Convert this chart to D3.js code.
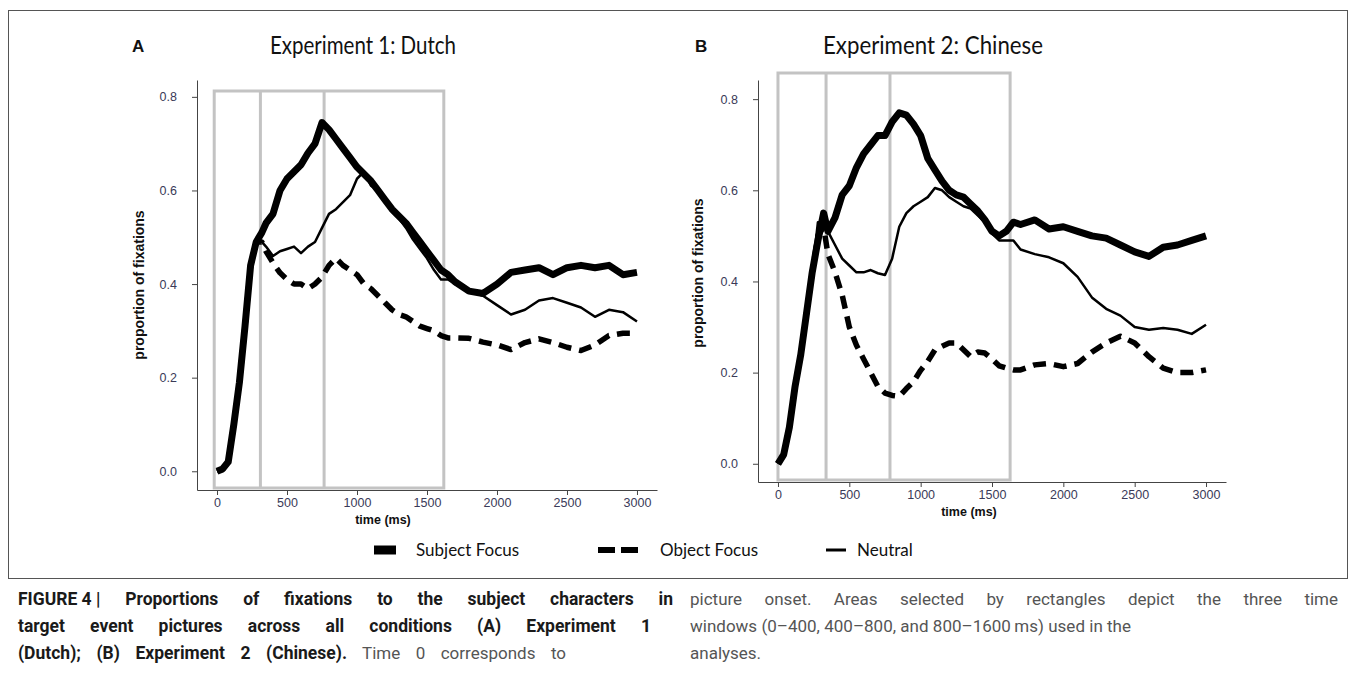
<!DOCTYPE html>
<meta charset="utf-8">
<style>
body { margin: 0; background: #fff; }
.tick text { font-family: "Liberation Sans", Arial, sans-serif; font-size: 12.5px; fill: #3a3a58; }
.axis path, .axis line { stroke: #444; }
.lbl { font-family: "Liberation Sans", Arial, sans-serif; font-size: 12.5px; font-weight: bold; fill: #111; }
.ylbl { font-size: 14px; }
.title { font-family: Lato, "Open Sans", sans-serif; font-size: 25px; fill: #111; }
.letter { font-family: "Liberation Sans", Arial, sans-serif; font-size: 17px; font-weight: bold; fill: #111; }
.legend text { font-family: Lato, "Open Sans", sans-serif; font-size: 17px; fill: #111; }
.cap { font-family: Roboto, "Liberation Sans", sans-serif; font-size: 17px; fill: #555; }
.cap .b { font-weight: bold; fill: #1a1a1a; font-size: 17.5px; }
.cap .tight { word-spacing: 0; }
</style>
<body>
<script src="https://cdn.jsdelivr.net/npm/d3@7"></script>
<script>

// time points (ms)
var times = [0, 40, 80, 120, 160, 200, 240, 280, 320,
  350, 400, 450, 500, 550, 600, 650, 700, 750, 800, 850, 900, 950, 1000,
  1050, 1100, 1150, 1200, 1250, 1300, 1350, 1400, 1450, 1500, 1550, 1600, 1650, 1700,
  1800, 1900, 2000, 2100, 2200, 2300, 2400, 2500, 2600, 2700, 2800, 2900, 3000];

// Experiment 1: Dutch
var dutchSubject = [0, 0.005, 0.02, 0.10, 0.19, 0.31, 0.44, 0.49, 0.51,
  0.53, 0.55, 0.60, 0.625, 0.64, 0.655, 0.68, 0.70, 0.745, 0.73, 0.71, 0.69, 0.67, 0.65,
  0.635, 0.62, 0.60, 0.58, 0.56, 0.545, 0.53, 0.51, 0.49, 0.47, 0.45, 0.43, 0.42, 0.405,
  0.385, 0.38, 0.40, 0.425, 0.43, 0.435, 0.42, 0.435, 0.44, 0.435, 0.44, 0.42, 0.425];
var dutchObject = [0, 0.005, 0.02, 0.10, 0.19, 0.31, 0.44, 0.49, 0.49,
  0.47, 0.445, 0.424, 0.41, 0.40, 0.40, 0.39, 0.40, 0.415, 0.44, 0.455, 0.44, 0.43, 0.42,
  0.40, 0.39, 0.375, 0.36, 0.345, 0.335, 0.33, 0.32, 0.31, 0.305, 0.30, 0.29, 0.285, 0.285,
  0.284, 0.276, 0.27, 0.26, 0.275, 0.283, 0.275, 0.265, 0.258, 0.27, 0.29, 0.295, 0.295];
var dutchNeutral = [0, 0.005, 0.02, 0.10, 0.19, 0.31, 0.44, 0.49, 0.49,
  0.48, 0.46, 0.47, 0.475, 0.48, 0.466, 0.48, 0.49, 0.52, 0.55, 0.56, 0.575, 0.59, 0.625,
  0.64, 0.61, 0.60, 0.575, 0.555, 0.54, 0.52, 0.495, 0.475, 0.455, 0.43, 0.41, 0.41, 0.40,
  0.385, 0.375, 0.355, 0.335, 0.345, 0.365, 0.37, 0.36, 0.35, 0.33, 0.345, 0.34, 0.32];

// Experiment 2: Chinese
var chineseSubject = [0, 0.02, 0.08, 0.17, 0.24, 0.33, 0.42, 0.49, 0.55,
  0.51, 0.54, 0.59, 0.61, 0.65, 0.68, 0.70, 0.72, 0.72, 0.75, 0.77, 0.765, 0.745, 0.72,
  0.67, 0.645, 0.62, 0.60, 0.59, 0.585, 0.57, 0.555, 0.535, 0.51, 0.50, 0.51, 0.53, 0.525,
  0.535, 0.515, 0.52, 0.51, 0.50, 0.495, 0.48, 0.465, 0.455, 0.475, 0.48, 0.49, 0.50];
var chineseObject = [0, 0.02, 0.08, 0.17, 0.24, 0.33, 0.42, 0.50, 0.52,
  0.46, 0.42, 0.37, 0.30, 0.26, 0.23, 0.20, 0.17, 0.155, 0.15, 0.148, 0.165, 0.18, 0.205,
  0.225, 0.25, 0.258, 0.265, 0.265, 0.25, 0.235, 0.245, 0.243, 0.23, 0.215, 0.21, 0.206, 0.206,
  0.217, 0.22, 0.213, 0.22, 0.245, 0.265, 0.28, 0.265, 0.235, 0.21, 0.20, 0.20, 0.206];
var chineseNeutral = [0, 0.02, 0.08, 0.17, 0.24, 0.33, 0.42, 0.53, 0.53,
  0.51, 0.48, 0.45, 0.435, 0.42, 0.42, 0.425, 0.418, 0.414, 0.45, 0.52, 0.55, 0.565, 0.575,
  0.585, 0.605, 0.60, 0.585, 0.575, 0.565, 0.56, 0.545, 0.53, 0.505, 0.49, 0.49, 0.49, 0.47,
  0.46, 0.453, 0.44, 0.41, 0.365, 0.34, 0.325, 0.30, 0.294, 0.298, 0.294, 0.285, 0.305];

var xTicks = [0, 500, 1000, 1500, 2000, 2500, 3000];
var yTicks = [0, 0.2, 0.4, 0.6, 0.8];

// edges of the analysis windows as drawn (ms)
var dutchWindows = [-20, 310, 765, 1620];
var chineseWindows = [0, 337, 785, 1627];

var legendLabels = ["Subject Focus", "Object Focus", "Neutral"];

var styles = [
  {width: 7, dash: null},
  {width: 5.5, dash: "13,8"},
  {width: 2.5, dash: null}
];

var svg = d3.select("body").append("svg")
    .attr("width", 1355)
    .attr("height", 680);

svg.append("rect")
    .attr("x", 8.5).attr("y", 10.5)
    .attr("width", 1339).attr("height", 568)
    .attr("fill", "none").attr("stroke", "#555").attr("stroke-width", 1);

function drawPanel(p) {
  var x = d3.scaleLinear().domain(p.xDomain).range(p.xRange);
  var y = d3.scaleLinear().domain(p.yDomain).range(p.yRange);
  var g = svg.append("g");

  g.append("text").attr("class", "letter")
      .attr("x", p.letterX).attr("y", 52).text(p.letter);
  g.append("text").attr("class", "title")
      .attr("x", p.titleX).attr("y", 54)
      .attr("textLength", p.titleW).attr("lengthAdjust", "spacingAndGlyphs")
      .text(p.title);

  // window rectangles
  var w = p.windows;
  var top = p.rectTop, bottom = p.yRange[0] - 2;
  g.append("rect")
      .attr("x", x(w[0])).attr("y", top)
      .attr("width", x(w[3]) - x(w[0])).attr("height", bottom - top)
      .attr("fill", "none").attr("stroke", "#c3c3c3").attr("stroke-width", 3);
  g.selectAll(".win").data([w[1], w[2]]).enter().append("line")
      .attr("x1", function(d) { return x(d); })
      .attr("x2", function(d) { return x(d); })
      .attr("y1", top).attr("y2", bottom)
      .attr("stroke", "#c3c3c3").attr("stroke-width", 3);

  g.append("g").attr("class", "axis")
      .attr("transform", "translate(0," + p.yRange[0] + ")")
      .call(d3.axisBottom(x).tickValues(xTicks).tickFormat(d3.format("d"))
        .tickSizeOuter(0).tickSizeInner(5).tickPadding(3));
  g.append("g").attr("class", "axis")
      .attr("transform", "translate(" + p.xRange[0] + ",0)")
      .call(d3.axisLeft(y).tickValues(yTicks).tickFormat(d3.format(".1f"))
        .tickSizeOuter(0).tickSizeInner(5).tickPadding(15));
  g.selectAll(".axis .tick line").attr("stroke", "#888");

  var line = d3.line()
      .x(function(d, i) { return x(times[i]); })
      .y(function(d) { return y(d); });

  [p.neutral, p.object, p.subject].forEach(function(s, k) {
    var st = styles[2 - k];
    g.append("path")
        .attr("d", line(s))
        .attr("fill", "none")
        .attr("stroke", "#000")
        .attr("stroke-width", st.width)
        .attr("stroke-linejoin", "round")
        .attr("stroke-dasharray", st.dash);
  });

  g.append("text").attr("class", "lbl ylbl")
      .attr("text-anchor", "middle")
      .attr("transform", "translate(" + p.yLabelX + "," + p.yLabelY + ") rotate(-90)")
      .text("proportion of fixations");
  g.append("text").attr("class", "lbl")
      .attr("text-anchor", "middle")
      .attr("x", p.xLabelX).attr("y", p.xLabelY)
      .text("time (ms)");
}

drawPanel({
  letter: "A", letterX: 132, title: "Experiment 1: Dutch", titleX: 270, titleW: 186,
  xDomain: [-143, 3143], xRange: [197, 657],
  yDomain: [-0.04, 0.836], yRange: [490, 80],
  rectTop: 91, windows: dutchWindows,
  subject: dutchSubject, object: dutchObject, neutral: dutchNeutral,
  yLabelX: 144, yLabelY: 285, xLabelX: 383, xLabelY: 524
});

drawPanel({
  letter: "B", letterX: 695, title: "Experiment 2: Chinese", titleX: 823, titleW: 220,
  xDomain: [-140, 3140], xRange: [758, 1226],
  yDomain: [-0.04, 0.842], yRange: [482, 80],
  rectTop: 73, windows: chineseWindows,
  subject: chineseSubject, object: chineseObject, neutral: chineseNeutral,
  yLabelX: 703, yLabelY: 273, xLabelX: 969, xLabelY: 516
});

// legend
var legX = [374, 598, 826], legTextX = [416, 660, 857], legY = 550;
var legend = svg.append("g").attr("class", "legend");
legendLabels.forEach(function(name, i) {
  var len = i == 1 ? 40 : (i == 0 ? 22 : 20);
  legend.append("line")
      .attr("x1", legX[i]).attr("x2", legX[i] + len)
      .attr("y1", legY).attr("y2", legY)
      .attr("stroke", "#000")
      .attr("stroke-width", i == 0 ? 9 : (i == 1 ? 6 : 3))
      .attr("stroke-dasharray", i == 1 ? "17,6" : null);
  legend.append("text")
      .attr("x", legTextX[i]).attr("y", legY + 6)
      .text(name);
});

// caption, justified by widening word gaps; parts: [text, bold, keep tight]
var caption = [
  {x: 18, y: 605, end: 673, parts: [["FIGURE 4 |", true, true], [" Proportions of fixations to the subject characters in", true]]},
  {x: 18, y: 632, end: 651, parts: [["target event pictures across all conditions (A) Experiment 1", true]]},
  {x: 18, y: 659, end: 566, parts: [["(Dutch); (B) Experiment 2 (Chinese).", true], [" Time 0 corresponds to", false]]},
  {x: 690, y: 605, end: 1338, parts: [["picture onset. Areas selected by rectangles depict the three time", false]]},
  {x: 690, y: 632, end: 1131, parts: [["windows (0\u2013400, 400\u2013800, and 800\u20131600\u2009ms) used in the", false]]},
  {x: 690, y: 659, end: null, parts: [["analyses.", false]]}
];
caption.forEach(function(c) {
  var t = svg.append("text").attr("class", "cap").attr("x", c.x).attr("y", c.y);
  var spaces = 0;
  c.parts.forEach(function(p) {
    var cls = (p[1] ? "b" : "") + (p[2] ? " tight" : "");
    t.append("tspan").attr("class", cls || null).text(p[0]);
    if (!p[2]) spaces += (p[0].match(/ /g) || []).length;
  });
  if (c.end) {
    var natural = t.node().getComputedTextLength();
    t.attr("word-spacing", Math.max(0, (c.end - c.x - natural) / spaces));
  }
});

</script>
</body>
